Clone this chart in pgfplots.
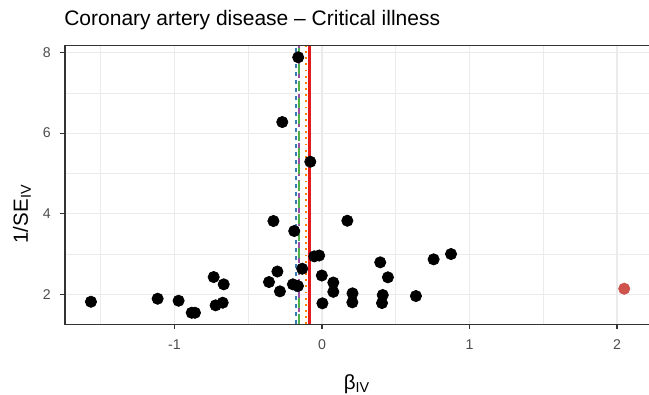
\documentclass[border=0pt]{standalone}
\usepackage{pgfplots}
\pgfplotsset{compat=1.18}
\usepackage{pgfplotstable}
\usepackage{fontspec}
\setmainfont{Liberation Sans}
\definecolor{tickgray}{HTML}{4D4D4D}
\definecolor{gridgray}{HTML}{EBEBEB}
\definecolor{axisgray}{HTML}{333333}
\definecolor{cred}{HTML}{E41A1C}
\definecolor{corange}{HTML}{FF7F00}
\definecolor{cgreen}{HTML}{4DAF4A}
\definecolor{cpurple}{HTML}{984EA3}
\definecolor{cblue}{HTML}{377EB8}
\definecolor{outlier}{HTML}{CD534C}

\pgfplotstableread{
x y
-1.566 1.816
-1.114 1.891
-0.972 1.841
-0.883 1.543
-0.861 1.543
-0.734 2.429
-0.666 2.248
-0.721 1.727
-0.673 1.792
-0.329 3.819
-0.188 3.571
-0.302 2.566
-0.359 2.305
-0.285 2.074
-0.197 2.248
-0.163 2.206
-0.134 2.635
-0.052 2.943
-0.019 2.963
-0.001 2.467
0.077 2.293
0.077 2.062
0.003 1.777
0.172 3.826
0.207 2.025
0.206 1.801
0.395 2.794
0.447 2.422
0.412 1.983
0.407 1.784
0.637 1.958
0.757 2.868
0.875 3.000
-0.161 7.881
-0.269 6.275
-0.079 5.290
}\ptsdata

\pgfplotstableread{
x y
2.049 2.139
}\outdata

\begin{document}
\begin{tikzpicture}
\useasboundingbox (-39pt,-42.4pt) rectangle (350.4pt,194.6pt);
\begin{axis}[
  name=ax,
  at={(0,0)}, anchor=south west,
  scale only axis,
  width=350.4pt, height=167.2pt,
  xmin=-1.742, xmax=2.217,
  ymin=1.256, ymax=8.17,
  xtick={-1,0,1,2}, ytick={2,4,6,8},
  minor xtick={-1.5,-0.5,0.5,1.5}, minor ytick={3,5,7},
  grid=both,
  major grid style={gridgray, line width=0.65pt},
  minor grid style={gridgray, line width=0.35pt},
  axis line style={draw=none},
  xtick pos=left, ytick pos=left,
  tick align=outside,
  major tick length=3pt,
  minor tick length=0pt,
  every tick/.style={axisgray, line width=0.7pt},
  tick label style={font=\fontsize{8.5}{9}\selectfont, text=tickgray},
  /pgf/number format/assume math mode=true,
  xticklabel style={yshift=-2.5pt},
  yticklabel style={xshift=-2pt},
  clip=false,
]
\addplot[only marks, mark=*, mark size=3.4pt, black] table {\ptsdata};
\addplot[only marks, mark=*, mark size=3.4pt, draw=outlier, fill=outlier] table {\outdata};
\addplot[cblue, line width=1.3pt, dash pattern=on 2.4pt off 2.4pt] coordinates {(-0.178,1.256) (-0.178,8.17)};
\addplot[cpurple, line width=1.3pt, dash pattern=on 5pt off 2.4pt] coordinates {(-0.156,1.256) (-0.156,8.17)};
\addplot[cgreen, line width=1.3pt, dash pattern=on 6pt off 4pt] coordinates {(-0.154,1.256) (-0.154,8.17)};
\addplot[corange, line width=1.3pt, dash pattern=on 1.1pt off 2.6pt] coordinates {(-0.111,1.256) (-0.111,8.17)};
\addplot[cred, line width=1.5pt] coordinates {(-0.084,1.256) (-0.084,8.17)};
\draw[axisgray, line width=0.7pt] (rel axis cs:1,1) -- (rel axis cs:0,1) -- (rel axis cs:0,0) -- (rel axis cs:1,0);
\end{axis}
\node[anchor=base west, inner sep=0pt, font=\fontsize{12.6}{14}\selectfont] at ([xshift=-0.6pt, yshift=11.8pt]ax.north west) {Coronary artery disease – Critical illness};
\node[anchor=base, inner sep=0pt, font=\fontsize{12.3}{14}\selectfont] at ([yshift=-39.4pt]ax.south) {β\textsubscript{IV}};
\node[rotate=90, inner sep=0pt, font=\fontsize{12.3}{14}\selectfont] at (-25.8pt,66.2pt) {1/SE\textsubscript{IV}};
\end{tikzpicture}
\end{document}
